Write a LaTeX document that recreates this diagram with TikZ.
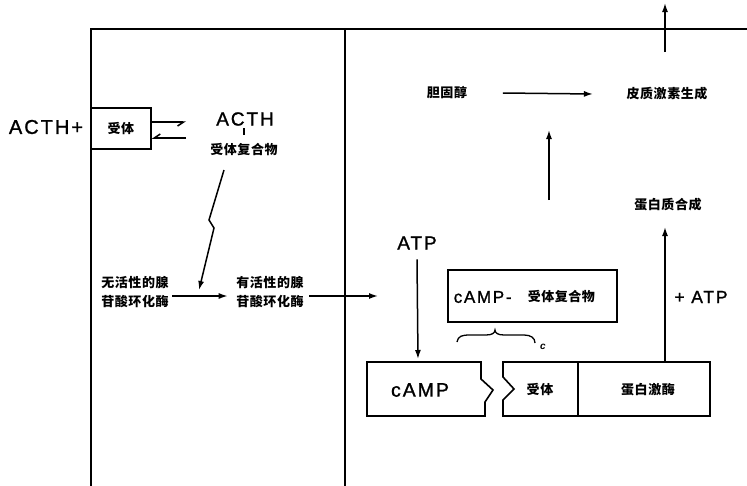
\documentclass[tikz,border=0pt]{standalone}
\usepackage{fontspec}
\setmainfont{Liberation Sans}
\newfontfamily\lat[LetterSpace=10,FakeBold=1.2]{Liberation Sans}
\newfontfamily\cjk[LetterSpace=4]{Noto Sans CJK SC}
\usetikzlibrary{arrows.meta}
\begin{document}
\begin{tikzpicture}[x=1pt,y=-1pt,line width=1.5pt,
  frame/.style={line width=2.1pt},
  arr/.style={line width=1.5pt,-{Latex[length=9pt,width=6pt]}},
  harp/.style={line width=1.5pt,-{Straight Barb[right,length=6pt,width=8pt]}},
  cn/.style={font=\cjk\bfseries\fontsize{13}{19}\selectfont,inner sep=0pt,align=center},
  latin/.style={font=\lat\fontsize{#1}{#1}\selectfont,inner sep=0pt},
  boxed/.style={draw,line width=1.6pt,inner sep=0pt}]
\useasboundingbox (0,0) rectangle (747,485);
% frame
\draw[frame] (91,486) -- (91,29) -- (748,29);
\draw[frame] (345,29) -- (345,486);
\coordinate (tr0) at (665,52);
\coordinate (tr1) at (665,3);
\draw[arr] (tr0) -- (tr1);
% left part
\node[latin=20] (acthl) at (46,127) {ACTH+};
\node[boxed,cn,minimum width=60pt,minimum height=41pt] (rec) at (121,128.5) {受体};
\coordinate (h1) at (186,122);
\coordinate (h2) at (186,138);
\draw[harp] (rec.east |- h1) -- (h1);
\draw[harp] (h2) -- (rec.east |- h2);
\node[latin=19] (actht) at (245,119) {ACTH};
\node[cn] (cplx) at (244,150) {受体复合物};
\draw[line width=1.4pt] ([yshift=-2pt]actht.south -| cplx.north) -- ([yshift=8pt]cplx.north);
\node[cn] (inact) at (135,292) {无活性的腺\\苷酸环化酶};
\node[cn] (act) at (270,292) {有活性的腺\\苷酸环化酶};
\coordinate (z0) at (224,170);
\coordinate (z1) at (209,220);
\coordinate (z2) at (214,228);
\coordinate (zt) at (199,290);
\draw[arr] (z0) -- (z1) -- (z2) -- (zt);
\draw[arr] ([shift={(3,4)}]inact.east) -- ([shift={(-8,4)}]act.west);
\coordinate (atgt) at (378,296);
\draw[arr] ([shift={(5,4)}]act.east) -- (atgt);
% right part
\node[cn] (chol) at (447,93) {胆固醇};
\node[cn] (cort) at (667,94) {皮质激素生成};
\draw[arr] ([xshift=35pt]chol.east) -- ([xshift=-33pt]cort.west);
\node[cn] (prot) at (668,205) {蛋白质合成};
\coordinate (va0) at (549,200);
\coordinate (va1) at (549,130);
\draw[arr] (va0) -- (va1);
\node[latin=19] (atp) at (417,243) {ATP};
\node[boxed,minimum width=169pt,minimum height=52pt] (cbox) at (532.5,296) {};
\node[latin=17,anchor=west] (cm) at (453,297) {cAMP-};
\node[cn,anchor=west] (cmr) at (527,297) {受体复合物};
% brace
\draw[line width=1.3pt] (457,342) .. controls (458,336) and (462,335) .. (470,335) -- (486,335)
  .. controls (492,335) and (495,333) .. (495,330) .. controls (495,333) and (498,335) .. (504,335)
  -- (524,335) .. controls (531,335) and (535,338) .. (535,343);
\node[font=\fontsize{10}{10}\selectfont\itshape\bfseries,inner sep=0pt] (cc) at (543,347) {c};
% cAMP piece
\draw[line width=1.6pt] (367,362) -- (481,362) -- (481,379) -- (493,390) -- (485,402) -- (485,416) -- (367,416) -- cycle;
\node[latin=19.5] (camp) at (420,390) {cAMP};
\coordinate (camptop) at (418,359);
\draw[arr] ([yshift=-9pt]atp.south) -- (camptop);
% receptor + kinase piece
\draw[line width=1.6pt] (503,362) -- (710,362) -- (710,416) -- (503,416) -- (503,400) -- (514,389) -- (503,377) -- cycle;
\coordinate (dv0) at (578,362);
\coordinate (dv1) at (578,416);
\draw[line width=1.6pt] (dv0) -- (dv1);
\node[cn] (rec2) at (540,390) {受体};
\node[cn] (kin) at (648,390) {蛋白激酶};
\coordinate (k0) at (665,362);
\coordinate (k1) at (665,227);
\draw[arr] (k0) -- (k1);
\node[latin=17.5] (patp) at (701,297) {+ ATP};
\end{tikzpicture}
\end{document}
